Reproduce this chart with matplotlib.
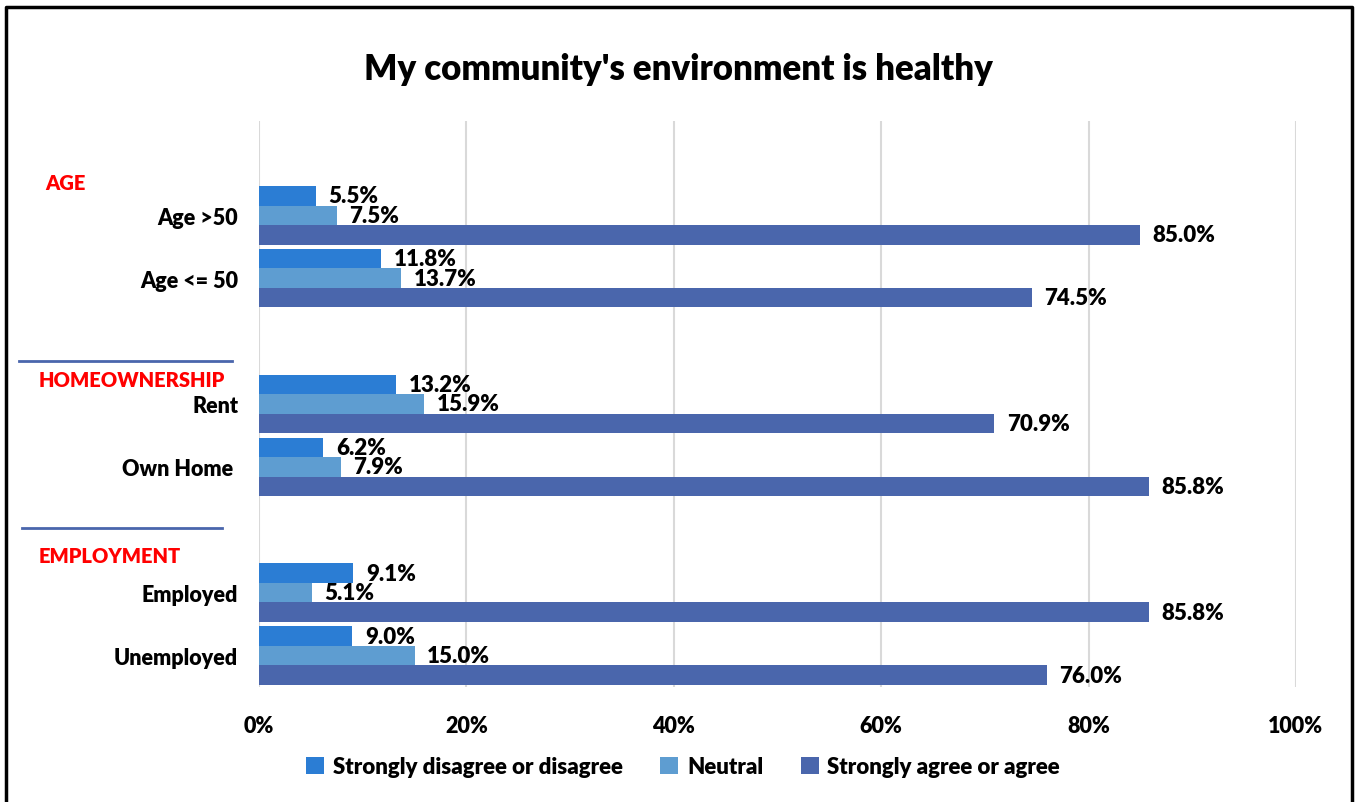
import numpy as np
import matplotlib.pyplot as plt
from matplotlib.lines import Line2D
from matplotlib.ticker import PercentFormatter

plt.rcParams['font.family'] = ['Lato', 'DejaVu Sans']
plt.rcParams['font.weight'] = 'heavy'
WT = 'heavy'

# survey responses (% of respondents)
groups = ["Age >50", "Age <= 50", "Rent", "Own Home ", "Employed", "Unemployed"]
slots = [2, 3, 5, 6, 8, 9]  # empty slots leave room for the section headers
disagree = [5.5, 11.8, 13.2, 6.2, 9.1, 9.0]
neutral = [7.5, 13.7, 15.9, 7.9, 5.1, 15.0]
agree = [85.0, 74.5, 70.9, 85.8, 85.8, 76.0]
series_names = ["Strongly disagree or disagree", "Neutral", "Strongly agree or agree"]
colors = ["#2B7DD4", "#5E9DD1", "#4A66AC"]

fig = plt.figure(figsize=(13.57, 8.03), dpi=100)
ax = fig.add_axes([0.1909, 0.1432, 0.7641, 0.7049])

y = np.array(slots, dtype=float)
h = 0.31
for vals, off, c, name in zip([disagree, neutral, agree], [-h, 0, h], colors, series_names):
    bars = ax.barh(y + off, vals, height=h, color=c, label=name, zorder=3)
    for b, v in zip(bars, vals):
        ax.text(v + 1.2, b.get_y() + b.get_height() / 2, f"{v:.1f}%",
                va='center', ha='left', fontsize=16, fontweight=WT)

ax.set_xlim(0, 100)
ax.set_ylim(9.5, 0.5)
ax.set_xticks(np.arange(0, 101, 20))
ax.xaxis.set_major_formatter(PercentFormatter(decimals=0))
ax.set_yticks(y)
ax.set_yticklabels(groups)
ax.tick_params(axis='both', length=0, labelsize=15.5)
ax.tick_params(axis='y', pad=15)
ax.tick_params(axis='x', pad=20)
for lab in ax.get_xticklabels() + ax.get_yticklabels():
    lab.set_fontweight(WT)
ax.grid(axis='x', color='#D9D9D9', linewidth=1.5, zorder=0)
for s in ax.spines.values():
    s.set_visible(False)

fig.suptitle("My community's environment is healthy", x=0.5, y=1 - 70 / 803,
             va='center', fontsize=25, fontweight=WT)

# section headers and separators
W, H = 1357, 803
for txt, px, py in [("AGE", 45, 183), ("HOMEOWNERSHIP", 39, 381), ("EMPLOYMENT", 39, 557)]:
    fig.text(px / W, 1 - py / H, txt, color='#FF0000', fontsize=14.5,
             fontweight=WT, va='center', ha='left')
for x0, x1, py in [(19, 232, 362), (22, 222, 529)]:
    fig.add_artist(Line2D([x0 / W, x1 / W], [1 - py / H] * 2, color='#4A66AC', lw=2))

# outer frame (open at the bottom)
fig.add_artist(Line2D([6 / W, 6 / W, 1352 / W, 1352 / W], [0, 1 - 8 / H, 1 - 8 / H, 0],
                      color='black', lw=2.5))

fig.legend(loc='center', bbox_to_anchor=(683 / W, 1 - 768 / H), ncol=3, frameon=False,
           handlelength=0.8, handleheight=0.8, columnspacing=1.7,
           handletextpad=0.4, prop={'weight': WT, 'size': 16})

fig.savefig("out.png", dpi=100)
